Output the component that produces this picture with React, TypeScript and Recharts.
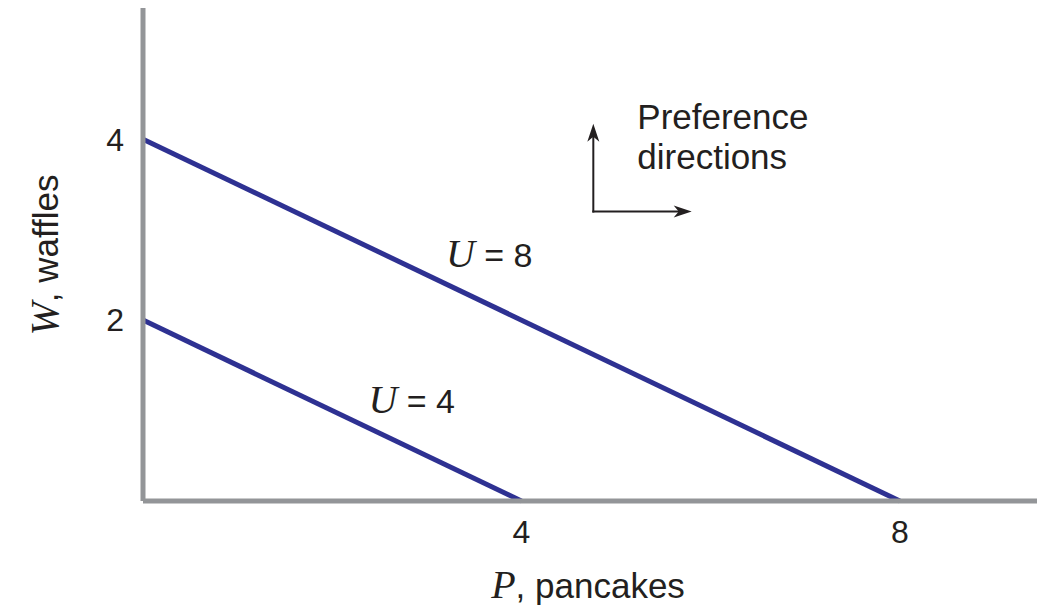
import React from "react";
import { LineChart, Line, XAxis, YAxis, ReferenceLine, ReferenceDot } from "recharts";

// indifference curves, P = pancakes, W = waffles
const curveU8 = [
  { p: 0, w: 4 },
  { p: 8, w: 0 },
];
const curveU4 = [
  { p: 0, w: 2 },
  { p: 4, w: 0 },
];
const pTicks = [4, 8];
const wTicks = [2, 4];
const curveLabels = [
  { name: "U", value: 8, p: 3.66, w: 2.59 },
  { name: "U", value: 4, p: 2.84, w: 0.97 },
];
const arrowCorner = { p: 4.76, w: 3.2 };
const arrowUpTo = 4.17;
const arrowRightTo = 5.8;

const SANS = "'Liberation Sans', Arial, Helvetica, sans-serif";
const SERIF = "'Liberation Serif', 'Times New Roman', serif";
const INK = "#231f20";
const NAVY = "#2e3192";
const AXIS = "#939598";

const CurveLabel = (props: any) => {
  const { viewBox, name, value } = props;
  return (
    <text x={viewBox.x} y={viewBox.y} textAnchor="middle" fill={INK} fontSize={34} fontFamily={SANS}>
      <tspan fontFamily={SERIF} fontStyle="italic" fontSize={40}>
        {name}
      </tspan>
      <tspan> = {value}</tspan>
    </text>
  );
};

const ArrowUp = (props: any) => {
  const { x1, y1, y2 } = props;
  const top = Math.min(y1, y2);
  const bot = Math.max(y1, y2);
  return (
    <g>
      <line x1={x1} y1={bot + 1} x2={x1} y2={top + 8} stroke={INK} strokeWidth={2} />
      <polygon points={`${x1},${top} ${x1 - 6},${top + 18} ${x1},${top + 13} ${x1 + 6},${top + 18}`} fill={INK} />
    </g>
  );
};

const ArrowRight = (props: any) => {
  const { x1, y1, x2 } = props;
  const left = Math.min(x1, x2);
  const right = Math.max(x1, x2);
  return (
    <g>
      <line x1={left - 1} y1={y1} x2={right - 8} y2={y1} stroke={INK} strokeWidth={2} />
      <polygon points={`${right},${y1} ${right - 18},${y1 - 6} ${right - 13},${y1} ${right - 18},${y1 + 6}`} fill={INK} />
    </g>
  );
};

const PrefText = (props: any) => {
  const { viewBox } = props;
  const x = viewBox.x + 44;
  const y = viewBox.y;
  return (
    <text x={x} y={y} fill={INK} fontSize={35} fontFamily={SANS}>
      <tspan x={x} y={y - 83}>Preference</tspan>
      <tspan x={x} y={y - 43}>directions</tspan>
    </text>
  );
};

const XTitle = (props: any) => {
  const { viewBox } = props;
  return (
    <text x={viewBox.x + 445} y={viewBox.y + 97} textAnchor="middle" fill={INK} fontSize={35} fontFamily={SANS}>
      <tspan fontFamily={SERIF} fontStyle="italic" fontSize={40}>P</tspan>
      <tspan>, pancakes</tspan>
    </text>
  );
};

const YTitle = (props: any) => {
  const { viewBox } = props;
  const x = 58;
  const y = viewBox.y + 247;
  return (
    <text x={x} y={y} textAnchor="middle" fill={INK} fontSize={35} fontFamily={SANS} transform={`rotate(-90 ${x} ${y})`}>
      <tspan fontFamily={SERIF} fontStyle="italic" fontSize={40}>W</tspan>
      <tspan>, waffles</tspan>
    </text>
  );
};

export default function App() {
  return (
    <div style={{ position: "absolute", left: 0, top: 0, width: 1048, height: 610, background: "#fff" }}>
      <LineChart width={1048} height={610} margin={{ top: 8, right: 11, bottom: 29, left: 0 }}>
        <XAxis
          type="number"
          dataKey="p"
          domain={[0, 9.45]}
          ticks={pTicks}
          height={80}
          tickLine={false}
          tickMargin={13}
          axisLine={{ stroke: AXIS, strokeWidth: 5 }}
          tick={{ fontSize: 32, fill: INK, fontFamily: SANS }}
          label={<XTitle />}
        />
        <YAxis
          type="number"
          dataKey="w"
          domain={[0, 5.45]}
          ticks={wTicks}
          width={143}
          tickLine={false}
          tickMargin={13}
          axisLine={{ stroke: AXIS, strokeWidth: 5 }}
          tick={{ fontSize: 32, fill: INK, fontFamily: SANS }}
          label={<YTitle />}
        />
        <Line data={curveU8} dataKey="w" stroke={NAVY} strokeWidth={5} dot={false} isAnimationActive={false} />
        <Line data={curveU4} dataKey="w" stroke={NAVY} strokeWidth={5} dot={false} isAnimationActive={false} />
        {curveLabels.map((c) => (
          <ReferenceDot
            key={c.value}
            x={c.p}
            y={c.w}
            r={0}
            stroke="none"
            fill="none"
            label={<CurveLabel name={c.name} value={c.value} />}
          />
        ))}
        <ReferenceLine
          segment={[
            { x: arrowCorner.p, y: arrowCorner.w },
            { x: arrowCorner.p, y: arrowUpTo },
          ]}
          shape={<ArrowUp />}
        />
        <ReferenceLine
          segment={[
            { x: arrowCorner.p, y: arrowCorner.w },
            { x: arrowRightTo, y: arrowCorner.w },
          ]}
          shape={<ArrowRight />}
        />
        <ReferenceDot
          x={arrowCorner.p}
          y={arrowCorner.w}
          r={0}
          stroke="none"
          fill="none"
          label={<PrefText />}
        />
      </LineChart>
    </div>
  );
}
